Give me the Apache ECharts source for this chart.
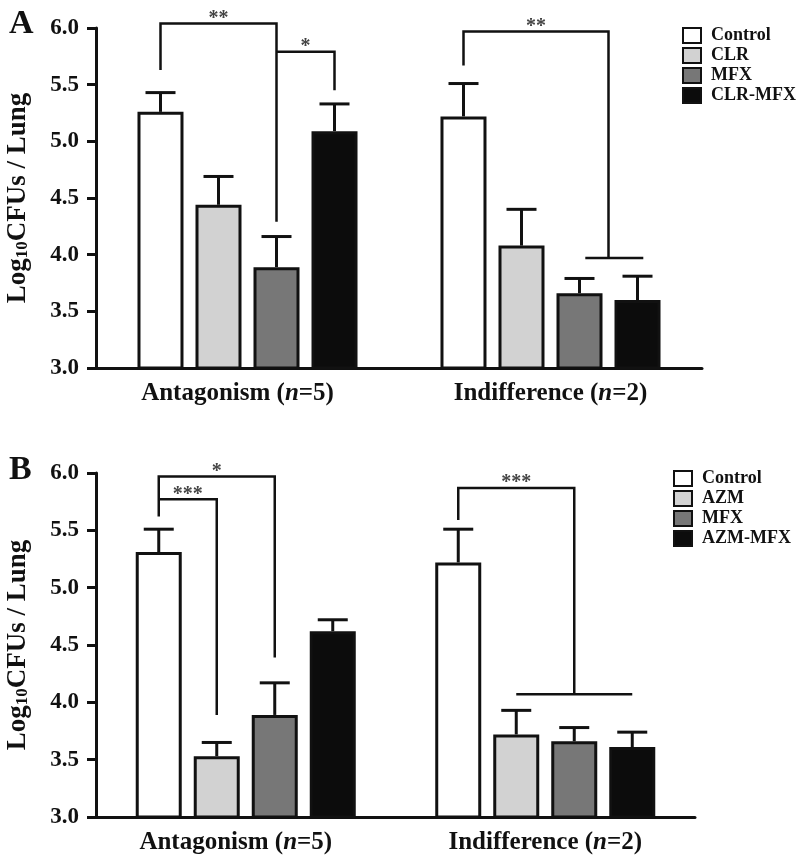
<!DOCTYPE html>
<html>
<head>
<meta charset="utf-8">
<script src="https://cdn.jsdelivr.net/npm/echarts@6/dist/echarts.min.js"></script>
<style>html,body{margin:0;padding:0;background:#fff}#c{width:800px;height:861px}</style>
</head>
<body>
<div id="c"></div>
<script>
// ---------- data ----------
const categories = ['Antagonism', 'Indifference'];
const categoryN = ['5', '2'];
const yTicks = [3.0, 3.5, 4.0, 4.5, 5.0, 5.5, 6.0];

// Panel A (mean, mean + error)
const seriesNamesA = ['Control', 'CLR', 'MFX', 'CLR-MFX'];
const aControl = [5.26, 5.22];   const aControlErr = [5.43, 5.51];
const aCLR     = [4.44, 4.08];   const aCLRErr     = [4.69, 4.40];
const aMFX     = [3.89, 3.66];   const aMFXErr     = [4.16, 3.79];
const aCombo   = [5.09, 3.60];   const aComboErr   = [5.33, 3.81];

// Panel B
const seriesNamesB = ['Control', 'AZM', 'MFX', 'AZM-MFX'];
const bControl = [5.31, 5.22];   const bControlErr = [5.51, 5.51];
const bAZM     = [3.53, 3.72];   const bAZMErr     = [3.65, 3.93];
const bMFX     = [3.89, 3.66];   const bMFXErr     = [4.17, 3.78];
const bCombo   = [4.62, 3.61];   const bComboErr   = [4.72, 3.74];

// significance brackets: category, from bar, to bar, left leg bottom, top, right leg bottom, label, optional span
const bracketsA = [
  {cat: 0, from: 0, to: 2, y1: 5.63, top: 6.04, y2: 4.29, label: '**'},
  {cat: 0, from: 2, to: 3, y1: 5.79, top: 5.79, y2: 5.45, label: '*'},
  {cat: 1, from: 0, to: 2.5, y1: 5.67, top: 5.97, y2: 3.97, label: '**', span: [2.1, 3.1]}
];
const bracketsB = [
  {cat: 0, from: 0, to: 2, y1: 5.62, top: 5.97, y2: 4.39, label: '*'},
  {cat: 0, from: 0, to: 1, y1: 5.77, top: 5.77, y2: 3.89, label: '***'},
  {cat: 1, from: 0, to: 2, y1: 5.59, top: 5.87, y2: 4.07, label: '***', span: [1, 3]}
];

// ---------- styles ----------
const FONT = "'Liberation Serif','DejaVu Serif','Times New Roman',serif";
const colors = ['#ffffff', '#d2d2d2', '#777777', '#0c0c0c'];
const BAR_W = 46, BAR_GAP = 12;
const LINE = '#111';

function offset(k) { return (k - 1.5) * (BAR_W + BAR_GAP); }

function barSeries(name, k, data, axis) {
  return {
    type: 'bar', name: name, xAxisIndex: axis, yAxisIndex: axis,
    data: data, barWidth: BAR_W, barGap: (BAR_GAP / BAR_W * 100).toFixed(1) + '%',
    itemStyle: {color: colors[k], borderColor: LINE, borderWidth: 3},
    z: 2
  };
}

function errSeries(k, mean, err, axis) {
  return {
    type: 'custom', name: 'err' + axis + k, xAxisIndex: axis, yAxisIndex: axis, z: 3,
    data: mean.map((m, i) => [i, m, err[i]]),
    renderItem: function (params, api) {
      const p0 = api.coord([api.value(0), api.value(1)]);
      const p1 = api.coord([api.value(0), api.value(2)]);
      const x = p0[0] + offset(k);
      return {
        type: 'group', children: [
          {type: 'line', shape: {x1: x, y1: p0[1], x2: x, y2: p1[1]}, style: {stroke: LINE, lineWidth: 3}},
          {type: 'line', shape: {x1: x - 15, y1: p1[1], x2: x + 15, y2: p1[1]}, style: {stroke: LINE, lineWidth: 3}}
        ]
      };
    }
  };
}

function bracketSeries(list, axis) {
  return {
    type: 'custom', name: 'sig' + axis, xAxisIndex: axis, yAxisIndex: axis, z: 4,
    data: list.map(b => [b.cat, b.top]),
    renderItem: function (params, api) {
      const b = list[params.dataIndex];
      const c = api.coord([b.cat, b.top]);
      const xa = c[0] + offset(b.from), xb = c[0] + offset(b.to);
      const yT = c[1];
      const ya = api.coord([b.cat, b.y1])[1], yb = api.coord([b.cat, b.y2])[1];
      const ch = [
        {type: 'polyline', shape: {points: [[xa, ya], [xa, yT], [xb, yT], [xb, yb]]},
          style: {stroke: LINE, lineWidth: 2.5, fill: null}},
        {type: 'text', style: {text: b.label, x: (xa + xb) / 2, y: yT + 5, align: 'center', verticalAlign: 'bottom',
          fontFamily: FONT, fontWeight: 'bold', fontSize: 20, fill: '#444'}}
      ];
      if (b.span) {
        ch.push({type: 'line', shape: {x1: c[0] + offset(b.span[0]), y1: yb, x2: c[0] + offset(b.span[1]), y2: yb},
          style: {stroke: LINE, lineWidth: 2.5}});
      }
      return {type: 'group', children: ch};
    }
  };
}

function yAxis(grid) {
  return {
    type: 'value', gridIndex: grid, min: yTicks[0], max: yTicks[yTicks.length - 1], interval: 0.5,
    splitLine: {show: false},
    axisLine: {show: true, lineStyle: {color: LINE, width: 3}},
    axisTick: {show: true, length: 9, lineStyle: {color: LINE, width: 3}},
    axisLabel: {fontFamily: FONT, fontWeight: 'bold', fontSize: 23, color: '#111', margin: 17,
      formatter: v => v.toFixed(1)},
    name: '{a|Log}{s|10}{a|CFUs / Lung}',
    nameLocation: 'middle', nameRotate: 90, nameGap: 63,
    nameTextStyle: {rich: {
      a: {fontFamily: FONT, fontWeight: 'bold', fontSize: 27, color: '#111', lineHeight: 30},
      s: {fontFamily: FONT, fontWeight: 'bold', fontSize: 17, color: '#111', lineHeight: 30, padding: [10, 0, 0, 0]}
    }}
  };
}

function xAxis(grid) {
  return {
    type: 'category', gridIndex: grid, data: categories,
    axisLine: {show: true, lineStyle: {color: LINE, width: 3}},
    axisTick: {show: false},
    axisLabel: {margin: 13,
      formatter: (v, i) => {
        const s = i === 0 ? 'p' : 'b';
        return '{' + s + '|' + v + ' (}{i|n}{b|=' + categoryN[i] + ')}';
      },
      rich: {
        b: {fontFamily: FONT, fontWeight: 'bold', fontSize: 25, color: '#111'},
        p: {fontFamily: FONT, fontWeight: 'bold', fontSize: 25, color: '#111', padding: [0, 0, 0, -20]},
        i: {fontFamily: FONT, fontWeight: 'bold', fontStyle: 'italic', fontSize: 25, color: '#111'}
      }}
  };
}

function legend(names, left, top) {
  return {
    data: names, orient: 'vertical', left: left, top: top, icon: 'rect',
    itemWidth: 18, itemHeight: 15, itemGap: 1, selectedMode: false,
    textStyle: {fontFamily: FONT, fontWeight: 'bold', fontSize: 18, lineHeight: 19, color: '#111', padding: [0, 0, 0, 5]}
  };
}

const aMeans = [aControl, aCLR, aMFX, aCombo], aErrs = [aControlErr, aCLRErr, aMFXErr, aComboErr];
const bMeans = [bControl, bAZM, bMFX, bCombo], bErrs = [bControlErr, bAZMErr, bMFXErr, bComboErr];

const series = [];
seriesNamesA.forEach((n, k) => series.push(barSeries(n, k, aMeans[k], 0)));
seriesNamesB.forEach((n, k) => series.push(barSeries(n, k, bMeans[k], 1)));
aMeans.forEach((m, k) => series.push(errSeries(k, m, aErrs[k], 0)));
bMeans.forEach((m, k) => series.push(errSeries(k, m, bErrs[k], 1)));
series.push(bracketSeries(bracketsA, 0));
series.push(bracketSeries(bracketsB, 1));

const chart = echarts.init(document.getElementById('c'), null, {renderer: 'canvas'});
chart.setOption({
  animation: false,
  backgroundColor: '#fff',
  title: [
    {text: 'A', left: 4, top: 2, textStyle: {fontFamily: FONT, fontWeight: 'bold', fontSize: 34, color: '#111'}},
    {text: 'B', left: 4, top: 448, textStyle: {fontFamily: FONT, fontWeight: 'bold', fontSize: 34, color: '#111'}}
  ],
  legend: [legend(seriesNamesA, 677, 21), legend(seriesNamesB, 668, 464)],
  grid: [
    {left: 96, right: 98, top: 28, bottom: 493, containLabel: false, outerBoundsMode: 'none'},
    {left: 96, right: 105, top: 473, bottom: 44, containLabel: false, outerBoundsMode: 'none'}
  ],
  xAxis: [xAxis(0), xAxis(1)],
  yAxis: [yAxis(0), yAxis(1)],
  series: series
});
</script>
</body>
</html>
